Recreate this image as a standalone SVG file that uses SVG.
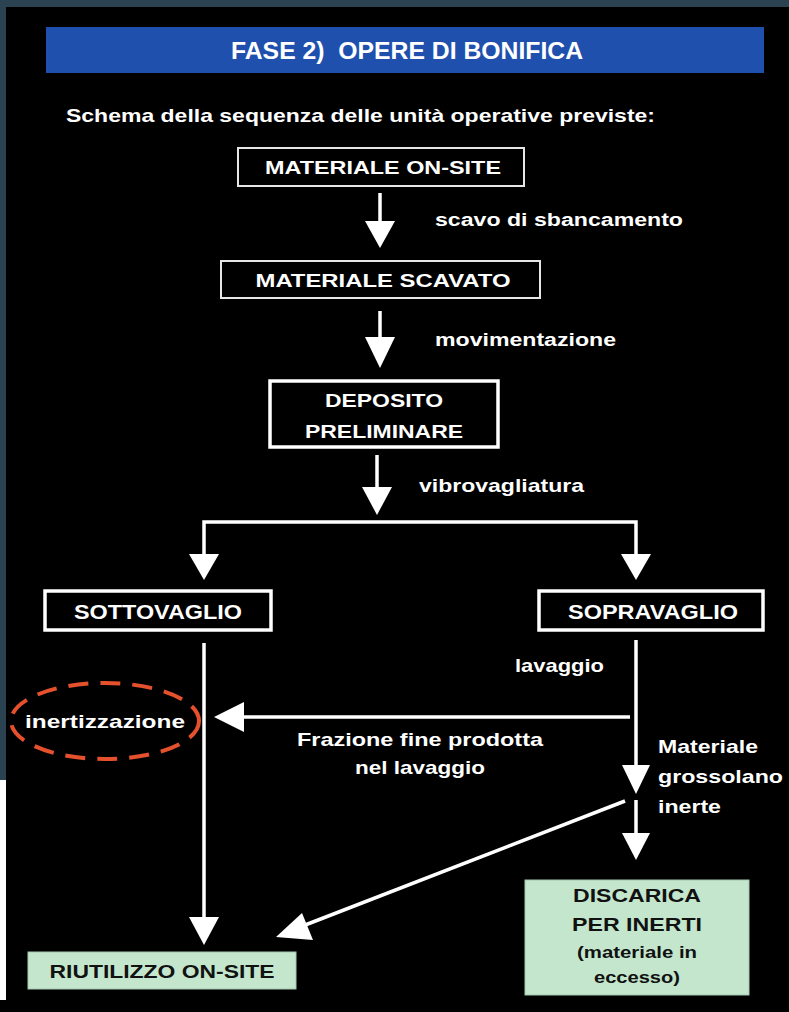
<svg xmlns="http://www.w3.org/2000/svg" width="789" height="1012" viewBox="0 0 789 1012">
<style>
.t{font-family:"Liberation Sans",Arial,sans-serif;font-weight:bold;fill:#ffffff}
.d{font-family:"Liberation Sans",Arial,sans-serif;font-weight:bold;fill:#111111}
.bx{fill:#000;stroke:#e6e6e6;stroke-width:2}
.bx3{fill:#000;stroke:#ffffff;stroke-width:3.5}
.gr{fill:#c3e6cd;stroke:#9fc8ad;stroke-width:1}
.ln{stroke:#ffffff;stroke-width:3.5;fill:none}
.hd{fill:#ffffff}
</style>
<rect x="0" y="0" width="789" height="1012" fill="#000"/>
<rect x="0" y="0" width="789" height="7" fill="#2b4250"/>
<rect x="0" y="0" width="6" height="780" fill="#2b4250"/>
<rect x="0" y="780" width="6" height="220" fill="#ffffff"/>
<g id="header">
<rect x="46" y="27" width="718" height="46" fill="#1f50ae"/>
<text class="t" x="407" y="59" font-size="23" text-anchor="middle" textLength="352" lengthAdjust="spacingAndGlyphs" xml:space="preserve">FASE 2)  OPERE DI BONIFICA</text>
</g>
<text class="t" x="66" y="122" font-size="19" textLength="589" lengthAdjust="spacingAndGlyphs">Schema della sequenza delle unità operative previste:</text>
<g id="connectors">
<line class="ln" x1="380" y1="193" x2="380" y2="224"/>
<polygon class="hd" points="365,221 395,221 380,248"/>
<line class="ln" x1="380" y1="311" x2="380" y2="340"/>
<polygon class="hd" points="365,337 395,337 380,368"/>
<line class="ln" x1="377" y1="455" x2="377" y2="490"/>
<polygon class="hd" points="362,487 392,487 377,515"/>
<polyline class="ln" points="204,568 204,522 636,522 636,568"/>
<polygon class="hd" points="189,554 219,554 204,580"/>
<polygon class="hd" points="621,554 651,554 636,580"/>
<line class="ln" x1="204" y1="643" x2="204" y2="920"/>
<polygon class="hd" points="189,917 219,917 204,945"/>
<line class="ln" x1="636" y1="640" x2="636" y2="768"/>
<polygon class="hd" points="622,765 650,765 636,794"/>
<line class="ln" x1="636" y1="800" x2="636" y2="836"/>
<polygon class="hd" points="622,833 650,833 636,860"/>
<line class="ln" x1="630" y1="717" x2="240" y2="717"/>
<polygon class="hd" points="244,702 244,732 214,717"/>
<line class="ln" x1="625" y1="801" x2="300" y2="927"/>
<polygon class="hd" points="276,937 302,913 313,940"/>
</g>
<g id="n-onsite">
<rect class="bx" x="238" y="148" width="286" height="38"/>
<text class="t" x="383" y="174" font-size="18" text-anchor="middle" textLength="236" lengthAdjust="spacingAndGlyphs">MATERIALE ON-SITE</text>
</g>
<text class="t" x="435" y="226" font-size="18" textLength="248" lengthAdjust="spacingAndGlyphs">scavo di sbancamento</text>
<g id="n-scavato">
<rect class="bx" x="221" y="261" width="319" height="37"/>
<text class="t" x="383" y="287" font-size="18" text-anchor="middle" textLength="255" lengthAdjust="spacingAndGlyphs">MATERIALE SCAVATO</text>
</g>
<text class="t" x="435" y="346" font-size="18" textLength="181" lengthAdjust="spacingAndGlyphs">movimentazione</text>
<g id="n-deposito">
<rect class="bx3" x="270" y="381" width="228" height="66"/>
<text class="t" x="384" y="407" font-size="18" text-anchor="middle" textLength="118" lengthAdjust="spacingAndGlyphs">DEPOSITO</text>
<text class="t" x="384" y="438" font-size="18" text-anchor="middle" textLength="158" lengthAdjust="spacingAndGlyphs">PRELIMINARE</text>
</g>
<text class="t" x="419" y="492" font-size="19" textLength="165" lengthAdjust="spacingAndGlyphs">vibrovagliatura</text>
<g id="n-sotto">
<rect class="bx3" x="45" y="591" width="226" height="39"/>
<text class="t" x="158" y="619" font-size="20" text-anchor="middle" textLength="168" lengthAdjust="spacingAndGlyphs">SOTTOVAGLIO</text>
</g>
<g id="n-sopra">
<rect class="bx3" x="539" y="591" width="224" height="39"/>
<text class="t" x="653" y="619" font-size="20" text-anchor="middle" textLength="170" lengthAdjust="spacingAndGlyphs">SOPRAVAGLIO</text>
</g>
<text class="t" x="515" y="672" font-size="19" textLength="89" lengthAdjust="spacingAndGlyphs">lavaggio</text>
<g id="n-inert">
<ellipse cx="105" cy="721" rx="94" ry="38" fill="none" stroke="#e4512c" stroke-width="4" stroke-dasharray="20,12"/>
<text class="t" x="105" y="728" font-size="19" text-anchor="middle" textLength="160" lengthAdjust="spacingAndGlyphs">inertizzazione</text>
</g>
<text class="t" x="420" y="746" font-size="19" text-anchor="middle" textLength="246" lengthAdjust="spacingAndGlyphs">Frazione fine prodotta</text>
<text class="t" x="420" y="774" font-size="19" text-anchor="middle" textLength="130" lengthAdjust="spacingAndGlyphs">nel lavaggio</text>
<text class="t" x="658" y="753" font-size="19" textLength="100" lengthAdjust="spacingAndGlyphs">Materiale</text>
<text class="t" x="658" y="783" font-size="19" textLength="125" lengthAdjust="spacingAndGlyphs">grossolano</text>
<text class="t" x="658" y="813" font-size="19" textLength="63" lengthAdjust="spacingAndGlyphs">inerte</text>
<g id="n-riutilizzo">
<rect class="gr" x="28" y="952" width="268" height="37"/>
<text class="d" x="162" y="978" font-size="19" text-anchor="middle" textLength="225" lengthAdjust="spacingAndGlyphs">RIUTILIZZO ON-SITE</text>
</g>
<g id="n-discarica">
<rect class="gr" x="525" y="880" width="224" height="115"/>
<text class="d" x="637" y="902" font-size="19" text-anchor="middle" textLength="128" lengthAdjust="spacingAndGlyphs">DISCARICA</text>
<text class="d" x="637" y="931" font-size="19" text-anchor="middle" textLength="130" lengthAdjust="spacingAndGlyphs">PER INERTI</text>
<text class="d" x="637" y="958" font-size="17" text-anchor="middle" textLength="120" lengthAdjust="spacingAndGlyphs">(materiale in</text>
<text class="d" x="637" y="983" font-size="17" text-anchor="middle" textLength="86" lengthAdjust="spacingAndGlyphs">eccesso)</text>
</g>
</svg>
